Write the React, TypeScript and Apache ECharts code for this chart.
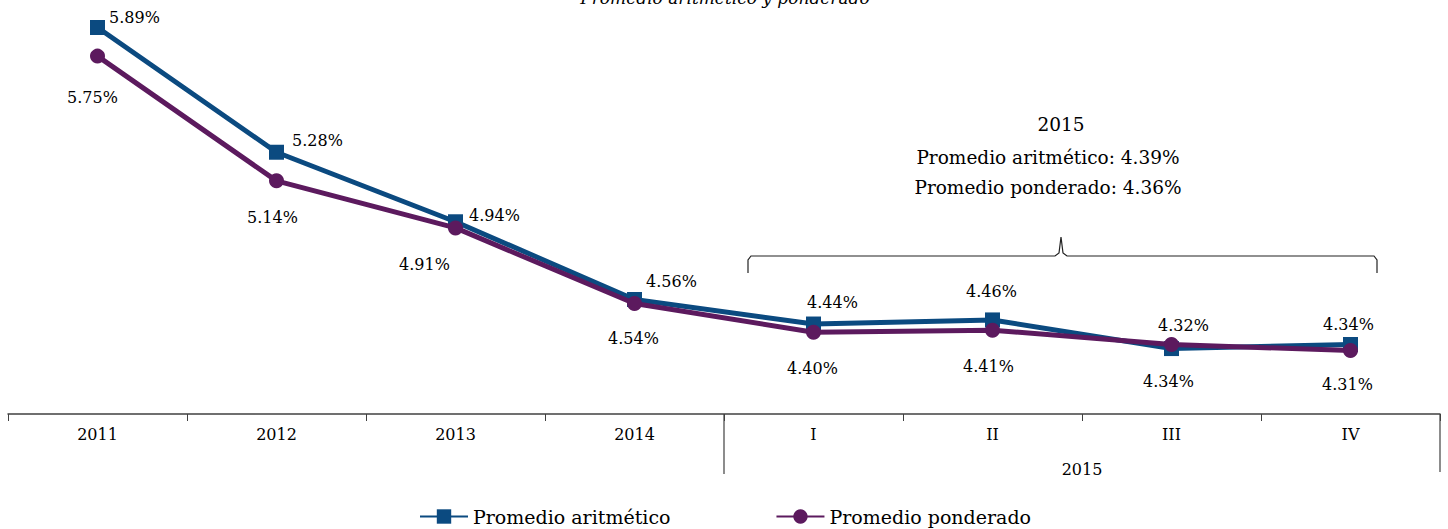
import React, { useEffect, useRef } from "react";
import * as echarts from "echarts";

const categories = ["2011", "2012", "2013", "2014", "I", "II", "III", "IV"];
const groupLabels = ["", "2015"];
const aritmetico = [5.89, 5.28, 4.94, 4.56, 4.44, 4.46, 4.32, 4.34];
const ponderado = [5.75, 5.14, 4.91, 4.54, 4.4, 4.41, 4.34, 4.31];
const seriesNames = ["Promedio aritmético", "Promedio ponderado"];
const titleText = "Promedio aritmético y ponderado";
const noteLines = ["2015", "Promedio aritmético: 4.39%", "Promedio ponderado: 4.36%"];

const BLUE = "#0B4A80";
const PURPLE = "#5C1A5E";
const FONT = "DejaVu Serif";
const INK = "#000";

const blueOffsets = [
  [37, -10], [41, -12], [39, -6], [37, -18],
  [19, -22], [-1, -28], [12, -23], [-2, -20],
];
const purpleOffsets = [
  [-5, 41], [-4, 37], [-31, 37], [-1, 35],
  [-1, 36], [-4, 36], [-3, 37], [-3, 34],
];

const GRID_LEFT = 8;
const GRID_RIGHT = 8;
const GRID_TOP = 5;
const GRID_HEIGHT = 409;
const W = 1448;
const H = 529;

export default function App() {
  const ref = useRef<HTMLDivElement>(null);
  useEffect(() => {
    if (!ref.current) return;
    const chart = echarts.init(ref.current, undefined, { renderer: "svg" });
    const axisY = GRID_TOP + GRID_HEIGHT;
    const gridW = W - GRID_LEFT - GRID_RIGHT;
    const midX = GRID_LEFT + gridW / 2;
    const rightX = W - GRID_RIGHT;

    const mkData = (vals: number[], offs: number[][]) =>
      vals.map((v, i) => ({
        value: v,
        label: { offset: offs[i] },
      }));

    const labelBase = {
      show: true,
      position: "inside",
      color: INK,
      fontFamily: FONT,
      fontSize: 16,
      formatter: (p: any) => p.value.toFixed(2) + "%",
    };

    const noteStyle = { fontFamily: FONT, fontSize: 18.5, fill: INK, align: "center", verticalAlign: "middle" };

    chart.setOption({
      animation: false,
      textStyle: { fontFamily: FONT },
      grid: { left: GRID_LEFT, right: GRID_RIGHT, top: GRID_TOP, height: GRID_HEIGHT, containLabel: false },
      xAxis: [
        {
          type: "category",
          data: categories,
          boundaryGap: true,
          axisLine: { lineStyle: { color: "#404040", width: 1.5 } },
          axisTick: { show: true, length: 7, lineStyle: { color: "#404040", width: 1 } },
          axisLabel: { color: INK, fontFamily: FONT, fontSize: 16, margin: 12 },
        },
        {
          type: "category",
          data: groupLabels,
          position: "bottom",
          axisLine: { show: false },
          axisTick: { show: false },
          axisLabel: { color: INK, fontFamily: FONT, fontSize: 16, margin: 47 },
        },
      ],
      yAxis: {
        type: "value",
        min: 4,
        max: 6,
        show: false,
        splitLine: { show: false },
      },
      legend: {
        left: 414,
        top: 502,
        itemWidth: 48,
        itemHeight: 18,
        itemGap: 105,
        textStyle: { fontFamily: FONT, fontSize: 19, color: INK, padding: [0, 0, 0, 0] },
        data: seriesNames,
      },
      series: [
        {
          name: seriesNames[0],
          type: "line",
          data: mkData(aritmetico, blueOffsets),
          symbol: "rect",
          symbolSize: 15,
          color: BLUE,
          lineStyle: { color: BLUE, width: 5 },
          itemStyle: { color: BLUE },
          label: labelBase,
          z: 3,
        },
        {
          name: seriesNames[1],
          type: "line",
          data: mkData(ponderado, purpleOffsets),
          symbol: "circle",
          symbolSize: 15,
          color: PURPLE,
          lineStyle: { color: PURPLE, width: 5 },
          itemStyle: { color: PURPLE },
          label: labelBase,
          z: 4,
        },
      ],
      graphic: [
        {
          type: "text",
          x: 725,
          y: 6,
          style: {
            text: titleText,
            fontFamily: FONT,
            fontStyle: "italic",
            fontSize: 17,
            fill: INK,
            align: "center",
            verticalAlign: "bottom",
          },
        },
        { type: "text", x: 1061, y: 124, style: { ...noteStyle, text: noteLines[0] } },
        { type: "text", x: 1048, y: 157, style: { ...noteStyle, text: noteLines[1] } },
        { type: "text", x: 1048, y: 187, style: { ...noteStyle, text: noteLines[2] } },
        {
          type: "polyline",
          shape: {
            points: [
              [748, 273], [748, 260], [751, 256], [1055, 256], [1059, 253],
              [1061, 237], [1063, 253], [1067, 256], [1374, 256], [1377, 260], [1377, 273],
            ],
          },
          style: { stroke: "#222", lineWidth: 1.2, fill: "none" },
        },
        {
          type: "line",
          shape: { x1: midX, y1: axisY, x2: midX, y2: axisY + 60 },
          style: { stroke: "#404040", lineWidth: 1.2 },
        },
        {
          type: "line",
          shape: { x1: rightX, y1: axisY, x2: rightX, y2: axisY + 58 },
          style: { stroke: "#404040", lineWidth: 1.2 },
        },
      ],
    });
    return () => chart.dispose();
  }, []);
  return (
    <div
      ref={ref}
      style={{ position: "absolute", left: 0, top: 0, width: W, height: H, background: "#fff" }}
    />
  );
}
